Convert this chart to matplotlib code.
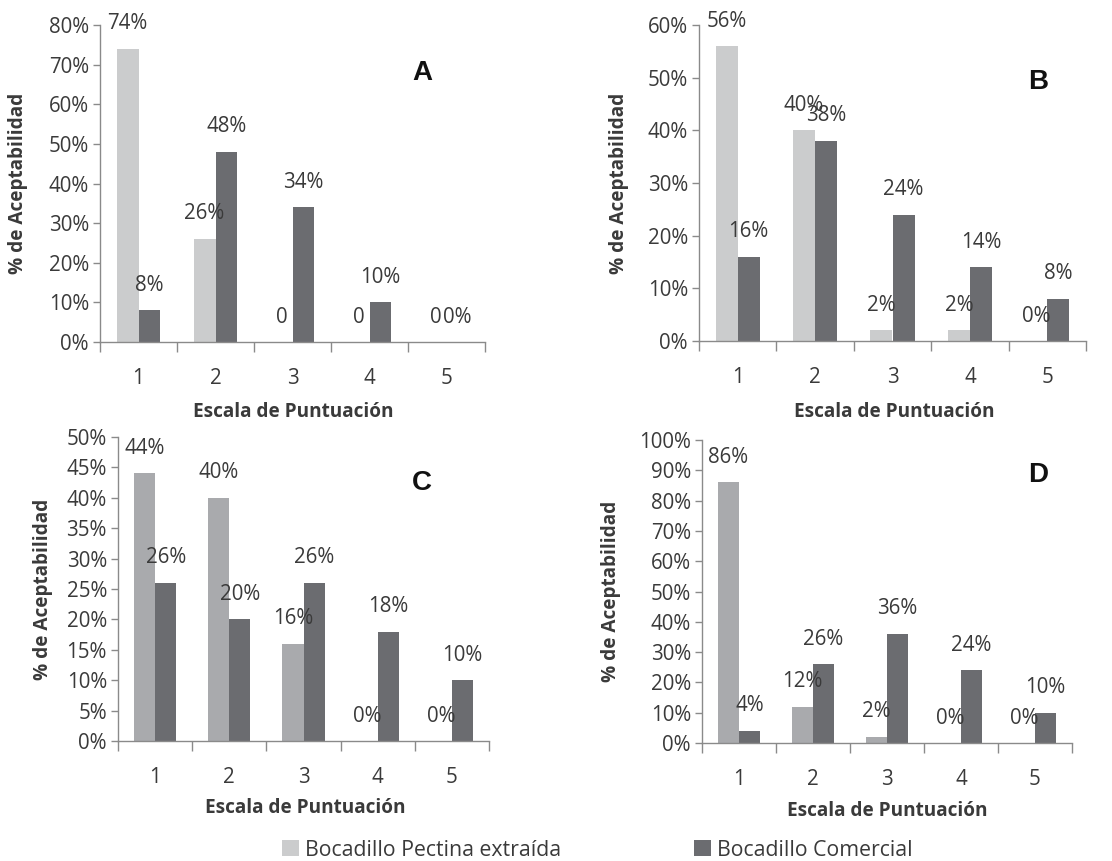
import matplotlib
matplotlib.use("Agg")
import matplotlib.pyplot as plt
from matplotlib.patches import Patch
import numpy as np

# ---------------- data ----------------
categories = [1, 2, 3, 4, 5]
series_names = ["Bocadillo Pectina extraída", "Bocadillo Comercial"]

a_light = [74, 26, 0, 0, 0]
a_dark = [8, 48, 34, 10, 0]
a_light_labels = ["74%", "26%", "0", "0", "0"]
a_dark_labels = ["8%", "48%", "34%", "10%", "0%"]

b_light = [56, 40, 2, 2, 0]
b_dark = [16, 38, 24, 14, 8]
b_light_labels = ["56%", "40%", "2%", "2%", "0%"]
b_dark_labels = ["16%", "38%", "24%", "14%", "8%"]

c_light = [44, 40, 16, 0, 0]
c_dark = [26, 20, 26, 18, 10]
c_light_labels = ["44%", "40%", "16%", "0%", "0%"]
c_dark_labels = ["26%", "20%", "26%", "18%", "10%"]

d_light = [86, 12, 2, 0, 0]
d_dark = [4, 26, 36, 24, 10]
d_light_labels = ["86%", "12%", "2%", "0%", "0%"]
d_dark_labels = ["4%", "26%", "36%", "24%", "10%"]

a_yticks = list(range(0, 81, 10))
b_yticks = list(range(0, 61, 10))
c_yticks = list(range(0, 51, 5))
d_yticks = list(range(0, 101, 10))

panel_letters = ["A", "B", "C", "D"]
xlabel_text = "Escala de Puntuación"
ylabel_text = "% de Aceptabilidad"

# ---------------- style ----------------
W, H = 1112, 861
FONT = "Open Sans"
TXT = "#3a3a3a"
SPINE = "#8a8a8a"
LIGHT_AB = "#cbcccd"
LIGHT_CD = "#a9aaad"
DARK = "#6b6c70"
FS = 14.8

fig = plt.figure(figsize=(W / 100, H / 100), dpi=100)


def px_rect(l, r, t, b):
    return [l / W, 1 - b / H, (r - l) / W, (b - t) / H]


panels = [
    dict(rect=px_rect(100, 485, 25, 342), light=a_light, dark=a_dark,
         ll=a_light_labels, dl=a_dark_labels, yt=a_yticks, lc=LIGHT_AB,
         letter=(422, 73), xl=(293, 412), yl=(18, 183)),
    dict(rect=px_rect(699, 1086, 25, 341), light=b_light, dark=b_dark,
         ll=b_light_labels, dl=b_dark_labels, yt=b_yticks, lc=LIGHT_AB,
         letter=(1038, 82), xl=(894, 412), yl=(619, 183)),
    dict(rect=px_rect(118, 489, 437, 741), light=c_light, dark=c_dark,
         ll=c_light_labels, dl=c_dark_labels, yt=c_yticks, lc=LIGHT_CD,
         letter=(422, 483), xl=(305, 808), yl=(43, 589)),
    dict(rect=px_rect(702, 1072, 440, 743), light=d_light, dark=d_dark,
         ll=d_light_labels, dl=d_dark_labels, yt=d_yticks, lc=LIGHT_CD,
         letter=(1038, 475), xl=(887, 811), yl=(611, 591)),
]

bw = 0.285
x = np.array(categories, dtype=float)
for p, letter in zip(panels, panel_letters):
    ax = fig.add_axes(p["rect"])
    ax.bar(x - bw / 2, p["light"], width=bw, color=p["lc"], zorder=2)
    ax.bar(x + bw / 2, p["dark"], width=bw, color=DARK, zorder=2)
    for xi, v, s in zip(x - bw / 2, p["light"], p["ll"]):
        ax.annotate(s, xy=(xi, v), xytext=(0, 18), textcoords="offset points",
                    ha="center", va="center", fontsize=FS, color=TXT,
                    family=FONT, annotation_clip=False, zorder=3)
    for xi, v, s in zip(x + bw / 2, p["dark"], p["dl"]):
        ax.annotate(s, xy=(xi, v), xytext=(0, 18), textcoords="offset points",
                    ha="center", va="center", fontsize=FS, color=TXT,
                    family=FONT, annotation_clip=False, zorder=3)
    ax.set_xlim(0.5, 5.5)
    ax.set_ylim(p["yt"][0], p["yt"][-1])
    ax.set_yticks(p["yt"])
    ax.set_yticklabels([f"{t}%" for t in p["yt"]], family=FONT, fontsize=FS, color=TXT)
    ax.set_xticks(x)
    ax.set_xticklabels([str(c) for c in categories], family=FONT, fontsize=FS, color=TXT)
    ax.set_xticks(np.arange(0.5, 5.51, 1.0), minor=True)
    ax.tick_params(axis="x", which="major", length=0, pad=19)
    ax.tick_params(axis="x", which="minor", length=7, width=1, color=SPINE, direction="out")
    ax.tick_params(axis="y", which="major", length=5, width=1, color=SPINE, direction="out", pad=3)
    for s in ["top", "right"]:
        ax.spines[s].set_visible(False)
    for s in ["left", "bottom"]:
        ax.spines[s].set_color(SPINE)
        ax.spines[s].set_linewidth(1)
    ax.patch.set_alpha(0)
    lx, ly = p["letter"]
    fig.text(lx / W, 1 - ly / H, letter, family="Liberation Sans", fontweight="bold",
             fontsize=20, color="#111111", ha="center", va="center")
    xx, xy = p["xl"]
    fig.text(xx / W, 1 - xy / H, xlabel_text, family=FONT, fontweight="bold",
             fontsize=13.7, color=TXT, ha="center", va="center")
    yx, yy = p["yl"]
    fig.text(yx / W, 1 - yy / H, ylabel_text, family=FONT, fontweight="bold",
             fontsize=13.7, color=TXT, ha="center", va="center", rotation=90)

leg_kw = dict(frameon=False, handlelength=0.8, handleheight=0.8,
              handletextpad=0.3, borderpad=0, borderaxespad=0, loc="center left",
              prop={"family": FONT, "size": 15.3})
h1 = Patch(facecolor=LIGHT_AB, edgecolor="none")
h2 = Patch(facecolor=DARK, edgecolor="none")
l1 = fig.legend([h1], [series_names[0]], bbox_to_anchor=(282 / W, 1 - 850 / H), **leg_kw)
for t in l1.get_texts():
    t.set_color(TXT)
l2 = fig.legend([h2], [series_names[1]], bbox_to_anchor=(694 / W, 1 - 850 / H), **leg_kw)
for t in l2.get_texts():
    t.set_color(TXT)

fig.savefig("out.png", dpi=100)
